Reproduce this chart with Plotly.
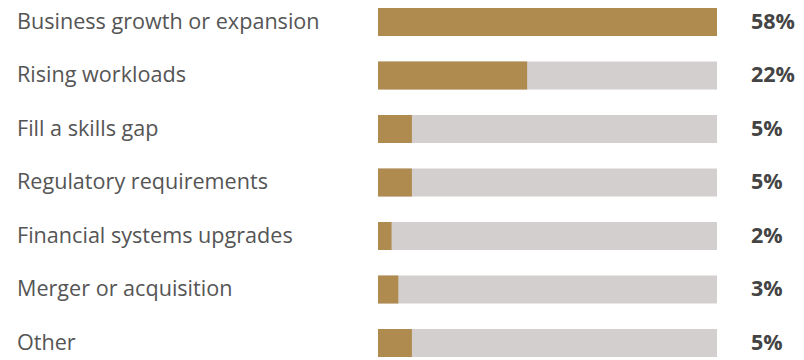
import plotly.graph_objects as go

categories = [
    "Business growth or expansion",
    "Rising workloads",
    "Fill a skills gap",
    "Regulatory requirements",
    "Financial systems upgrades",
    "Merger or acquisition",
    "Other",
]
values = [58, 22, 5, 5, 2, 3, 5]
scale_max = 50  # track length in percent

gold = "#B08B50"
track = "#D3CFCE"

pos = list(range(len(categories)))

# plot area spans x = 378..717 px; annotations are placed in paper units of it
left, right = 378, 717
span = right - left

fig = go.Figure()
fig.add_trace(go.Bar(
    x=[scale_max] * len(pos), y=pos, orientation="h",
    marker=dict(color=track, line=dict(width=0)),
    width=0.523, hoverinfo="skip", showlegend=False,
))
fig.add_trace(go.Bar(
    x=values, y=pos, orientation="h",
    marker=dict(color=gold, line=dict(width=0)),
    width=0.523, showlegend=False,
))

for p, name, v in zip(pos, categories, values):
    fig.add_annotation(
        x=(15 - left) / span, xref="paper", y=p, yref="y", yshift=2,
        text=name, showarrow=False, xanchor="left", yanchor="middle",
        font=dict(family="Open Sans", size=21.6, color="#555555"),
    )
    fig.add_annotation(
        x=(749 - left) / span, xref="paper", y=p, yref="y", yshift=2,
        text=f"{v}%", showarrow=False, xanchor="left", yanchor="middle",
        font=dict(family="Open Sans", size=21.5, color="#444444", weight="bold"),
    )

fig.update_layout(
    width=804, height=360,
    margin=dict(l=left, r=804 - right, t=0, b=0),
    barmode="overlay",
    paper_bgcolor="white", plot_bgcolor="white",
    xaxis=dict(range=[0, scale_max], visible=False, fixedrange=True),
    yaxis=dict(range=[6 + 17 / 53.5, -22 / 53.5], visible=False, fixedrange=True),
)

fig.write_html("out.html")
